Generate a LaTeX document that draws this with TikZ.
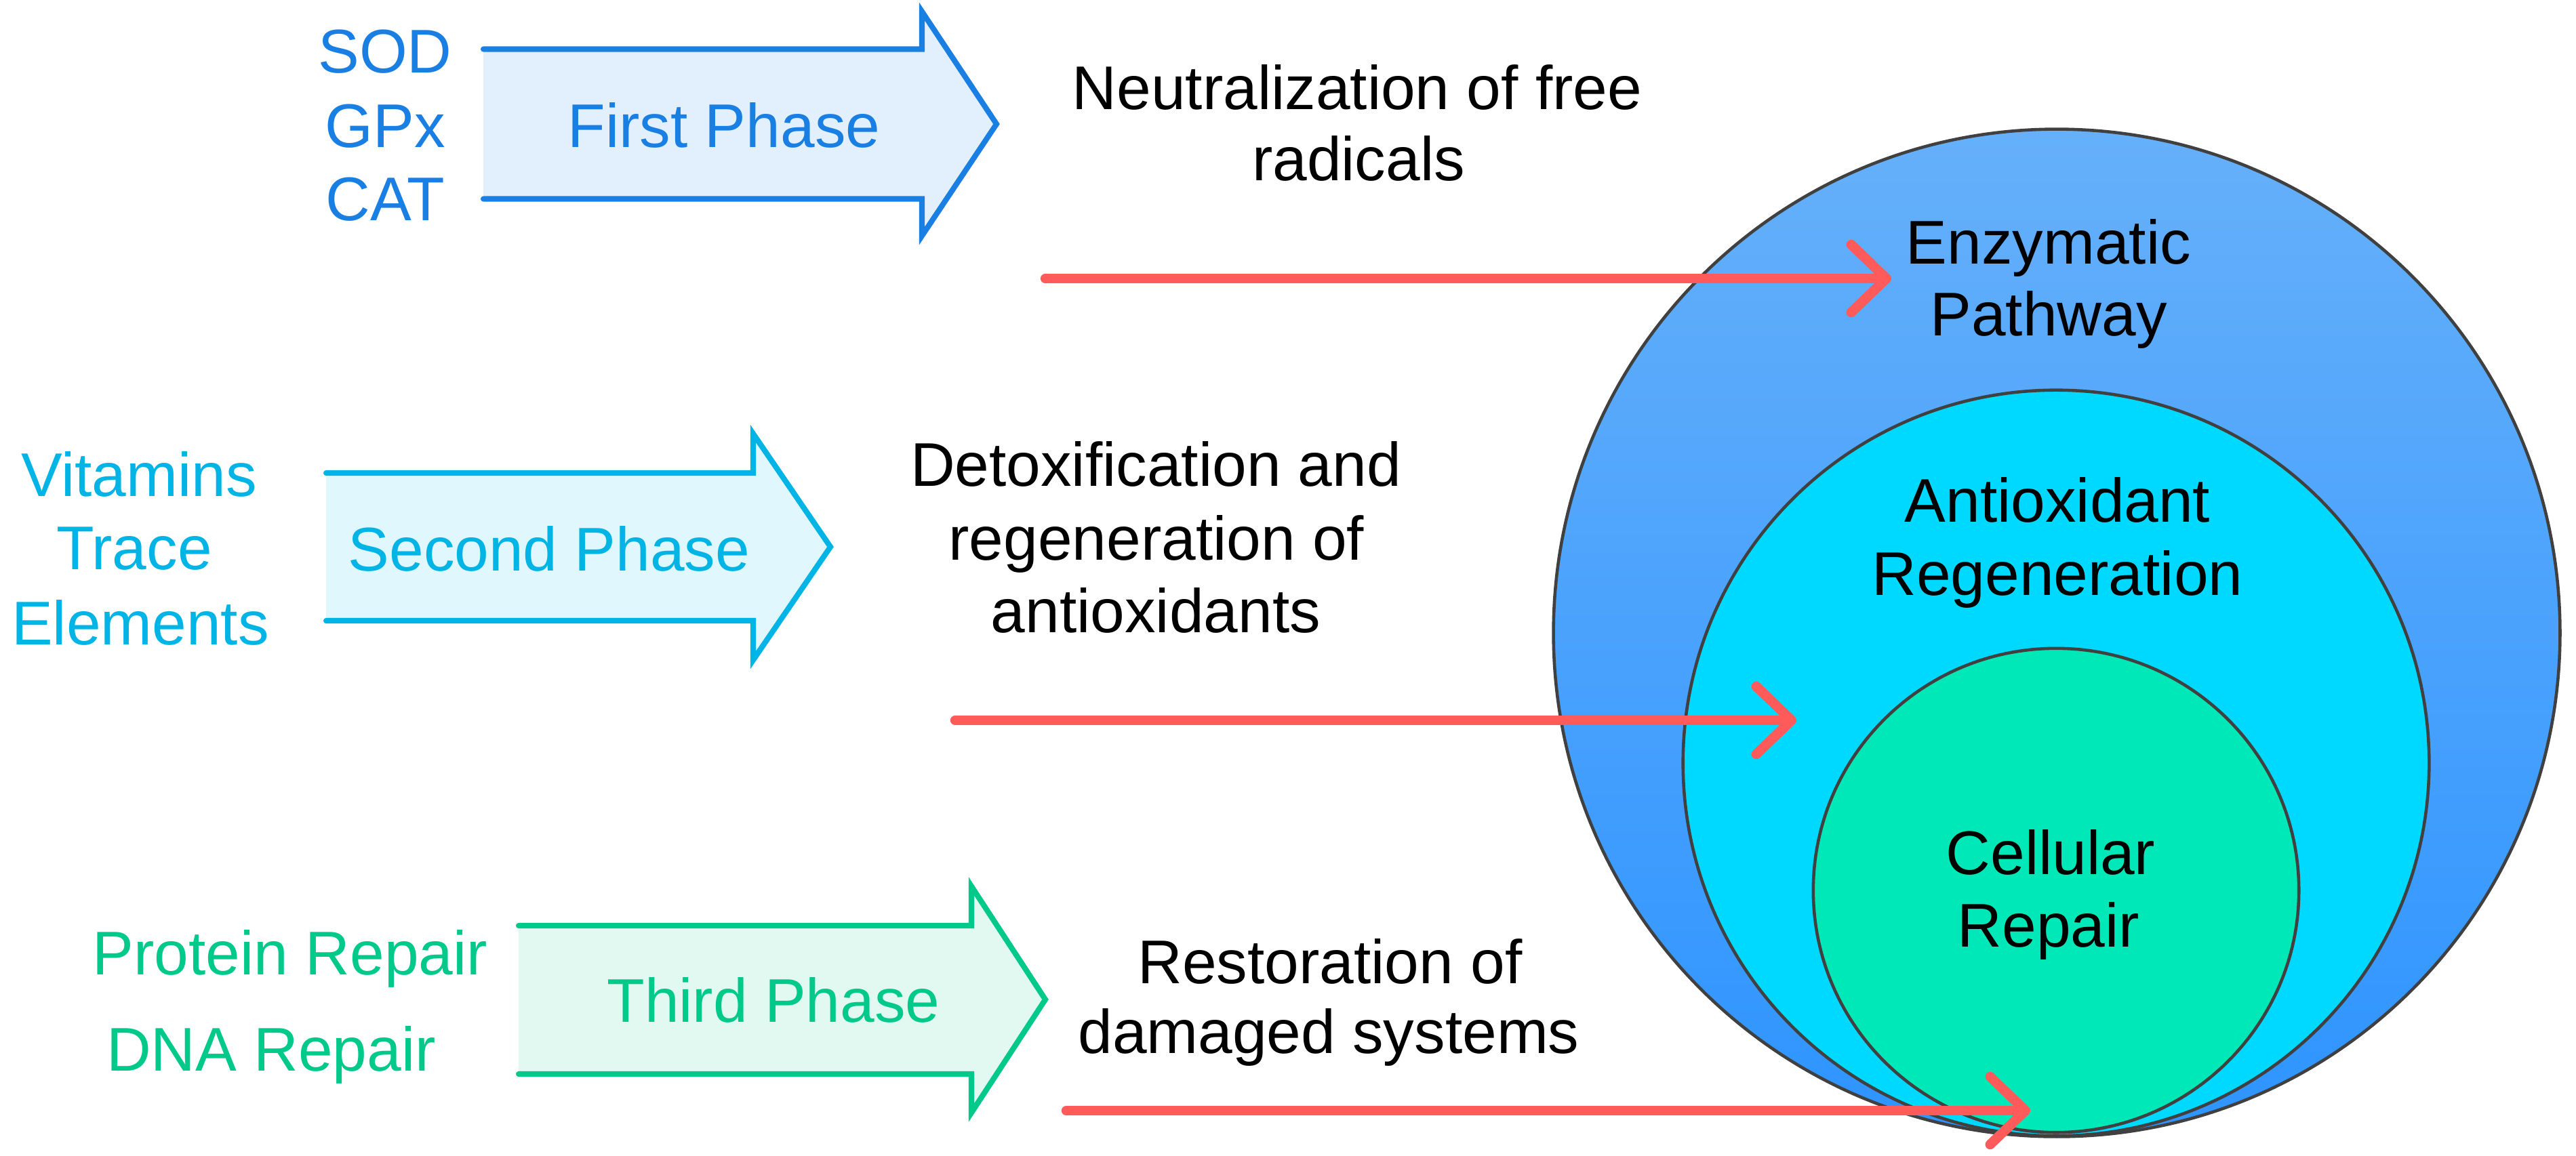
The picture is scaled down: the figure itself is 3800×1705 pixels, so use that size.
\documentclass[tikz,border=0pt]{standalone}
\usepackage{fontspec}
\setmainfont{Liberation Sans}
\usetikzlibrary{arrows.meta}
\definecolor{blueP}{HTML}{1A7FE3}
\definecolor{blueF}{HTML}{E2EFFD}
\definecolor{cyanP}{HTML}{00B4E5}
\definecolor{cyanF}{HTML}{E0F7FD}
\definecolor{greenP}{HTML}{00C98A}
\definecolor{greenF}{HTML}{E2F9F1}
\definecolor{redA}{HTML}{FF5B5B}
\definecolor{outerTop}{HTML}{66B0FA}
\definecolor{outerBot}{HTML}{2E94FF}
\definecolor{midC}{HTML}{00D9FF}
\definecolor{innC}{HTML}{00E8B7}
\definecolor{rimC}{HTML}{404040}
\begin{document}
\begin{tikzpicture}[x=0.01cm,y=-0.01cm,
  lbl/.style={inner sep=0pt, anchor=base, font=\fontsize{25.9}{31}\selectfont},
  phaseline/.style={line width=2.3pt, line join=miter, line cap=round},
  redarrow/.style={draw=redA, line width=4.1pt, line cap=round,
    -{Straight Barb[length=0.52cm, width=1.0cm, line cap=round, line join=round]}},
  rim/.style={draw=rimC, line width=1.3pt}]
\useasboundingbox (0,0) rectangle (3800,1705);

% ---------- concentric pathway ellipses ----------
\path[rim, top color=outerTop, bottom color=outerBot] (3034,934) ellipse [x radius=7.42cm, y radius=7.43cm];
\node[coordinate] (outer) at (3034,934) {};
\path[rim, fill=midC] (3033,1126) ellipse [x radius=5.50cm, y radius=5.50cm];
\node[coordinate] (middle) at (3033,1126) {};
\path[rim, fill=innC] (3033,1314) ellipse [x radius=3.58cm, y radius=3.57cm];
\node[coordinate] (inner) at (3033,1314) {};

\node[lbl] (enz1) at (3022,389) {Enzymatic};
\node[lbl] (enz2) at (3022,495) {Pathway};
\node[lbl] (reg1) at (3035,770) {Antioxidant};
\node[lbl] (reg2) at (3035,878) {Regeneration};
\node[lbl] (cel1) at (3025,1290) {Cellular};
\node[lbl] (cel2) at (3022,1397) {Repair};

% ---------- first phase ----------
\fill[blueF] (713,72.5) -- (1360,72.5) -- (1360,17) -- (1470,183) -- (1360,348) -- (1360,293.5) -- (713,293.5) -- cycle;
\draw[blueP, phaseline] (713,72.5) -- (1360,72.5) -- (1360,17) -- (1470,183) -- (1360,348) -- (1360,293.5) -- (713,293.5);
\node[lbl, text=blueP] (p1) at (1068,217) {First Phase};
\node[lbl, text=blueP] (sod) at (568,107) {SOD};
\node[lbl, text=blueP] (gpx) at (568,217) {GPx};
\node[lbl, text=blueP] (cat) at (568,325) {CAT};

% ---------- second phase ----------
\fill[cyanF] (481,698) -- (1111,698) -- (1111,640) -- (1225,807) -- (1111,974) -- (1111,916) -- (481,916) -- cycle;
\draw[cyanP, phaseline] (481,698) -- (1111,698) -- (1111,640) -- (1225,807) -- (1111,974) -- (1111,916) -- (481,916);
\node[lbl, text=cyanP] (p2) at (810,842) {Second Phase};
\node[lbl, text=cyanP] (vit) at (205,732) {Vitamins};
\node[lbl, text=cyanP] (tra) at (198,840) {Trace};
\node[lbl, text=cyanP] (ele) at (207,951) {Elements};

% ---------- third phase ----------
\fill[greenF] (765,1366) -- (1433,1366) -- (1433,1308) -- (1542,1475) -- (1433,1642) -- (1433,1585) -- (765,1585) -- cycle;
\draw[greenP, phaseline] (765,1366) -- (1433,1366) -- (1433,1308) -- (1542,1475) -- (1433,1642) -- (1433,1585) -- (765,1585);
\node[lbl, text=greenP] (p3) at (1141,1508) {Third Phase};
\node[lbl, text=greenP] (pro) at (428,1438) {Protein Repair};
\node[lbl, text=greenP] (dna) at (400,1580) {DNA Repair};

% ---------- descriptions ----------
\node[lbl] (n1) at (2002,161) {Neutralization of free};
\node[lbl] (n2) at (2004,266) {radicals};
\node[lbl] (d1) at (1705,717) {Detoxification and};
\node[lbl] (d2) at (1706,826) {regeneration of};
\node[lbl] (d3) at (1705,933) {antioxidants};
\node[lbl] (r1) at (1962,1451) {Restoration of};
\node[lbl] (r2) at (1960,1554) {damaged systems};

% ---------- red connectors ----------
\coordinate (a1s) at (1542,411);
\coordinate (a1e) at (2790,411);
\coordinate (a2s) at (1409,1063);
\coordinate (a2e) at (2650,1063);
\coordinate (a3s) at (1573,1639);
\coordinate (a3e) at (2995,1639);
\draw[redarrow] (a1s) -- (a1e);
\draw[redarrow] (a2s) -- (a2e);
\draw[redarrow] (a3s) -- (a3e);
\end{tikzpicture}
\end{document}
